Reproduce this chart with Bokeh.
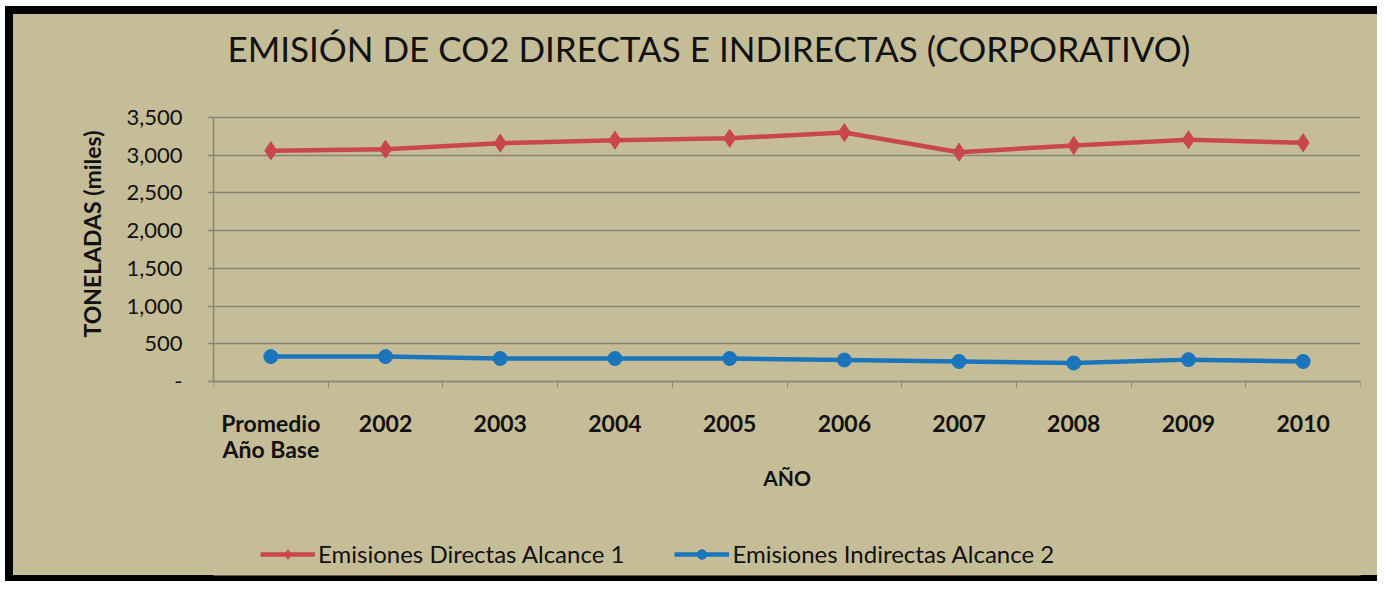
from bokeh.plotting import figure
from bokeh.models import (ColumnDataSource, FixedTicker, Legend, LegendItem,
                          NumeralTickFormatter, Range1d, Title)
from bokeh.embed import file_html
from bokeh.resources import INLINE

# ---- data ----
categories = ["Promedio\nAño Base", "2002", "2003", "2004", "2005",
              "2006", "2007", "2008", "2009", "2010"]
directas = [3060, 3080, 3160, 3200, 3225, 3300, 3040, 3130, 3205, 3165]
indirectas = [330, 330, 305, 305, 305, 285, 265, 245, 290, 265]
y_ticks = [0, 500, 1000, 1500, 2000, 2500, 3000, 3500]

title_text = "EMISIÓN DE CO2 DIRECTAS E INDIRECTAS (CORPORATIVO)"
y_title = "TONELADAS (miles)"
x_title = "AÑO"
label_dir = "Emisiones Directas Alcance 1"
label_ind = "Emisiones Indirectas Alcance 2"

xs = list(range(len(categories)))
src = ColumnDataSource(dict(x=xs, d=directas, i=indirectas))

BG = "#C5BD97"
GRID = "#8A8676"
RED = "#C9464B"
BLUE = "#1B75BC"
FONT = "Lato"

# layout (pixels): frame top 90, top gridline 117, value 0 at 381, frame bottom 575
W, H = 1377, 581
FT, GT, ZERO, BOTTOM = 90, 117, 381, 575
y_top = y_ticks[-1]
px = (ZERO - GT) / y_top
y_max = y_top + (GT - FT) / px
y_min = -(BOTTOM - ZERO) / px

p = figure(width=W, height=H, output_backend="svg", toolbar_location=None,
           x_range=Range1d(-0.5, len(categories) - 0.5), y_range=Range1d(y_min, y_max),
           min_border_left=213, min_border_right=17, min_border_top=FT,
           min_border_bottom=H - BOTTOM)
p.styles = {
    "background-color": BG,
    "box-shadow": ("inset 5px 6px 0 0 white, inset 13px 14px 0 0 black, "
                   "inset 0 -6px 0 0 black"),
}
p.background_fill_color = BG
p.border_fill_color = None
p.outline_line_color = None

p.title.text = title_text
p.title.align = "left"
p.title.offset = 14
p.title.standoff = 44
p.title.text_font = FONT
p.title.text_font_size = "35px"
p.title.text_font_style = "normal"
p.title.text_color = "#111111"

r_line = p.line("x", "d", source=src, line_color=RED, line_width=4.5)
r_pts = p.scatter("x", "d", source=src, marker="diamond", size=18,
                  fill_color=RED, line_color=RED)
b_line = p.line("x", "i", source=src, line_color=BLUE, line_width=4.5)
b_pts = p.scatter("x", "i", source=src, marker="circle", size=14,
                  fill_color=BLUE, line_color=BLUE)

# x axis, drawn at value 0
xa = p.xaxis[0]
xa.fixed_location = 0
xa.ticker = FixedTicker(ticks=xs, minor_ticks=[v - 0.5 for v in range(len(categories) + 1)])
xa.major_label_overrides = {i: c for i, c in enumerate(categories)}
xa.major_tick_line_color = None
xa.major_tick_out = 0
xa.major_tick_in = 0
xa.minor_tick_line_color = GRID
xa.minor_tick_out = 6
xa.minor_tick_in = 0
xa.axis_line_color = GRID
xa.axis_line_width = 1.5
xa.major_label_text_font = FONT
xa.major_label_text_font_style = "bold"
xa.major_label_text_font_size = "23px"
xa.major_label_text_line_height = 0.95
xa.major_label_text_color = "#111111"
xa.major_label_standoff = 21
xa.axis_label = x_title
xa.axis_label_text_font = FONT
xa.axis_label_text_font_style = "bold"
xa.axis_label_text_font_size = "21px"
xa.axis_label_text_color = "#111111"
xa.axis_label_standoff = -1

# y axis
ya = p.yaxis[0]
ya.bounds = (0, y_top)
ya.ticker = FixedTicker(ticks=y_ticks)
ya.formatter = NumeralTickFormatter(format="0,0")
ya.major_label_overrides = {0: "-"}
ya.minor_tick_line_color = None
ya.major_tick_line_color = GRID
ya.major_tick_line_width = 1.5
ya.major_tick_out = 6
ya.major_tick_in = 0
ya.axis_line_color = GRID
ya.axis_line_width = 1.5
ya.major_label_text_font = FONT
ya.major_label_text_font_size = "22px"
ya.major_label_text_color = "#111111"
ya.major_label_standoff = 25

ytitle = Title(text=y_title, align="right", offset=40, standoff=36,
               text_font=FONT, text_font_style="bold", text_font_size="23px",
               text_color="#111111")
p.add_layout(ytitle, "left")

p.xgrid.grid_line_color = None
p.ygrid.ticker = FixedTicker(ticks=y_ticks)
p.ygrid.grid_line_color = GRID
p.ygrid.grid_line_width = 1.5

legend = Legend(items=[LegendItem(label=label_dir, renderers=[r_line, r_pts]),
                       LegendItem(label=label_ind, renderers=[b_line, b_pts])],
                orientation="horizontal", location=(47, 7))
legend.margin = 0
legend.background_fill_alpha = 0
legend.border_line_color = None
legend.label_text_font = FONT
legend.label_text_font_size = "24px"
legend.label_text_color = "#111111"
legend.glyph_width = 55
legend.glyph_height = 24
legend.label_standoff = 3
legend.spacing = 50
legend.padding = 10
p.add_layout(legend, "center")

open("out.html", "w").write(file_html(p, INLINE))
